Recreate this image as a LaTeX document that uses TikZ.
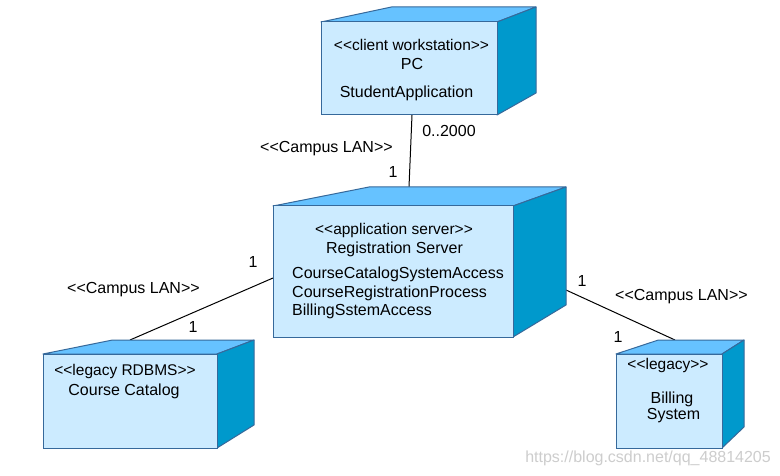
\documentclass[tikz,border=0pt]{standalone}
\usepackage{fontspec}
\setmainfont{Liberation Sans}
\definecolor{frontc}{RGB}{204,235,255}
\definecolor{topc}{RGB}{102,194,255}
\definecolor{sidec}{RGB}{0,153,204}
\definecolor{edgec}{RGB}{54,105,155}
\definecolor{wmark}{RGB}{205,205,205}
\newcommand{\stq}[1]{<\kern0pt<#1>\kern0pt>}
% #1 name, #2 left, #3 top, #4 right, #5 bottom, #6 depth x, #7 rise of top, #8 rise of side bottom
\newcommand{\udcube}[8]{%
  \path[topface] (#2,#3) -- ({#2+0.4*(#4-#2)},{#3-#7}) -- ({#4+#6},{#3-#7}) -- (#4,#3) -- cycle;
  \path[sideface] (#4,#3) -- ({#4+#6},{#3-#7}) -- ({#4+#6},{#5-#8}) -- (#4,#5) -- cycle;
  \node[frontface, minimum width={#4-#2}, minimum height={#5-#3}] (#1) at (#2,#3) {};
}
\begin{document}
\begin{tikzpicture}[x=1pt,y=-1pt,
  frontface/.style={draw=edgec, fill=frontc, line width=1pt, inner sep=0pt, outer sep=0pt, anchor=north west},
  topface/.style={draw=edgec, fill=topc, line width=1pt, line join=round},
  sideface/.style={draw=edgec, fill=sidec, line width=1pt, line join=round},
  lbl/.style={font=\fontsize{16}{19}\selectfont, inner sep=0pt, anchor=base},
  lblw/.style={lbl, anchor=base west},
  stereo/.style={lbl, font=\fontsize{15.5}{18}\selectfont},
  link/.style={draw=black, line width=1pt}]
\fill[white] (0,0) rectangle (780,476);
\useasboundingbox (0,0) rectangle (780,476);

% connection points
\coordinate (pcport) at (412,115);
\coordinate (srvtop) at (409,187);
\coordinate (srvleft) at (273,278);
\coordinate (catport) at (130,340);
\coordinate (srvright) at (566,290);
\coordinate (billport) at (675,340);

\draw[link] (pcport) -- (srvtop);
\draw[link] (srvleft) -- (catport);
\draw[link] (srvright) -- (billport);

\udcube{pc}{321}{22}{497}{115}{39}{15}{22}
\udcube{srv}{273}{206}{513}{337}{53}{19}{32}
\udcube{cat}{43}{354}{217}{448}{37}{14}{23}
\udcube{bill}{616}{354}{722}{448}{22}{14}{21}

% PC texts
\node[stereo] (pcst) at (411.5,51) {\stq{client workstation}};
\node[lbl] (pcname) at (412,70) {PC};
\node[lbl] (pcapp) at (406.5,98) {StudentApplication};

% server texts
\node[stereo] (srvst) at (394,235) {\stq{application server}};
\node[lbl] (srvname) at (394.5,254) {Registration Server};
\node[lblw] (srvc1) at (292,279) {CourseCatalogSystemAccess};
\node[lblw] (srvc2) at (292,297.5) {CourseRegistrationProcess};
\node[lblw] (srvc3) at (292,316) {BillingSstemAccess};

% catalog texts
\node[stereo] (catst) at (125,375) {\stq{legacy RDBMS}};
\node[lbl] (catname) at (124,395) {Course Catalog};

% billing texts
\node[stereo] (billst) at (668,369) {\stq{legacy}};
\node[lbl] (billn1) at (672,403) {Billing};
\node[lbl] (billn2) at (673.5,419) {System};

% connector labels
\node[lbl] (lan1) at (326.5,153) {\stq{Campus LAN}};
\node[lbl] (mult1) at (449,137) {0..2000};
\node[lbl] (one1) at (393,178) {1};
\node[lbl] (lan2) at (133.5,293) {\stq{Campus LAN}};
\node[lbl] (one2) at (253,267) {1};
\node[lbl] (one3) at (193,332) {1};
\node[lbl] (lan3) at (681.5,301) {\stq{Campus LAN}};
\node[lbl] (one4) at (582,287) {1};
\node[lbl] (one5) at (618,342) {1};

% watermark
\node[lbl, text=wmark, anchor=base east] (wm) at (771,462) {https://blog.csdn.net/qq\_48814205};
\end{tikzpicture}
\end{document}
